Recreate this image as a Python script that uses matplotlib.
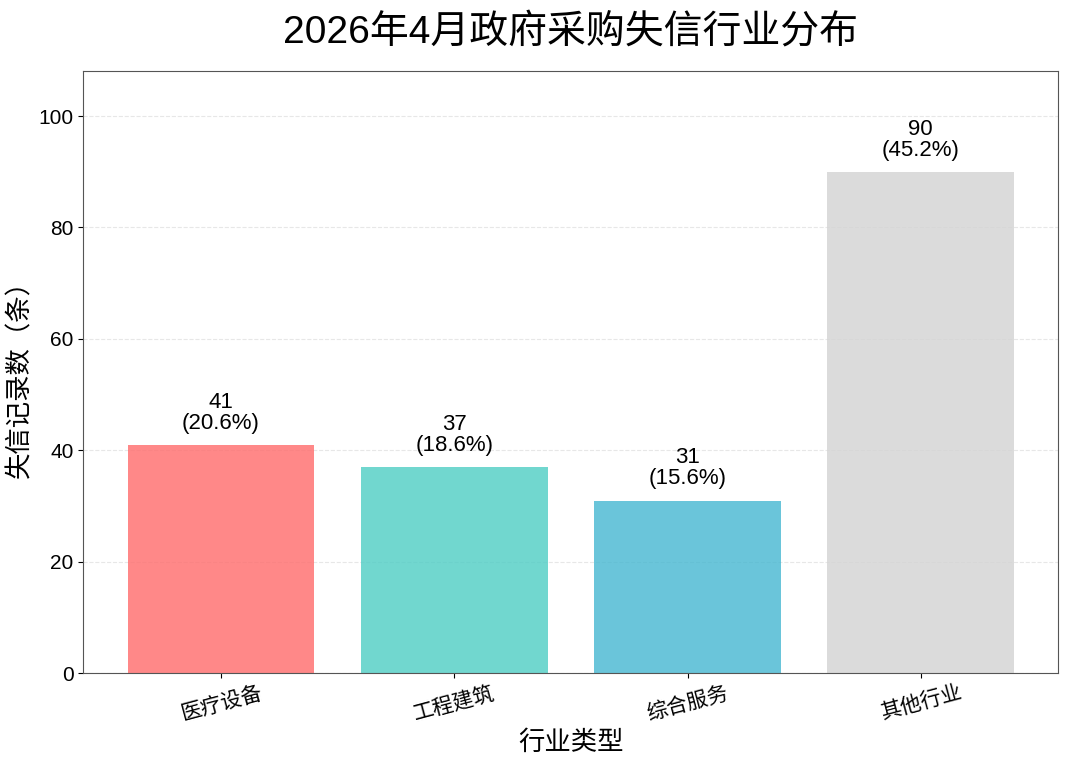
import matplotlib
matplotlib.use('Agg')
import matplotlib.pyplot as plt

plt.rcParams['font.family'] = ['Liberation Sans', 'Noto Sans CJK SC', 'DejaVu Sans']
plt.rcParams['axes.unicode_minus'] = False

industries = ['医疗设备', '工程建筑', '综合服务', '其他行业']
counts = [41, 37, 31, 90]
percents = [20.6, 18.6, 15.6, 45.2]
colors = ['#FF6B6B', '#4ECDC4', '#45B7D1', '#D3D3D3']

fig, ax = plt.subplots(figsize=(10.67, 7.6), dpi=100)
bars = ax.bar(industries, counts, color=colors, alpha=0.8, width=0.8)

for bar, c, p in zip(bars, counts, percents):
    ax.text(bar.get_x() + bar.get_width() / 2, bar.get_height() + 2,
            f'{c}\n({p}%)', ha='center', va='bottom', fontsize=16, linespacing=1.0)

ax.set_ylim(0, max(counts) * 1.2)
ax.set_title('2026年4月政府采购失信行业分布', fontsize=28, pad=20)
ax.set_xlabel('行业类型', fontsize=19)
ax.set_ylabel('失信记录数（条）', fontsize=19)
ax.tick_params(axis='y', labelsize=15)
ax.tick_params(axis='x', labelsize=15)
plt.setp(ax.get_xticklabels(), rotation=15)
ax.grid(axis='y', linestyle='--', alpha=0.3)
ax.set_axisbelow(True)
for s in ax.spines.values():
    s.set_color('#555555')

plt.subplots_adjust(left=0.078, right=0.992, top=0.906, bottom=0.114)
plt.savefig('out.png', dpi=100)
